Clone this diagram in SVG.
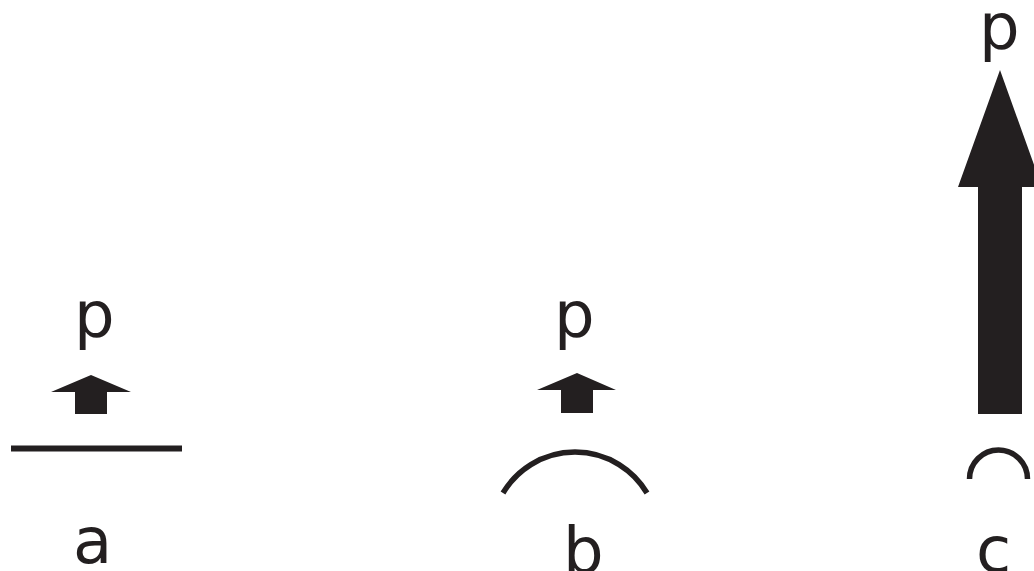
<svg xmlns="http://www.w3.org/2000/svg" width="1034" height="571" viewBox="0 0 1034 571">
  <style>
    .lbl { font-family: "DejaVu Sans", Verdana, sans-serif; font-size: 64px; fill: #231f20; }
    .shape { fill: #231f20; }
    .curve { fill: none; stroke: #231f20; stroke-width: 5.5; stroke-linecap: butt; }
  </style>
  <rect width="1034" height="571" fill="#ffffff"/>
  <g id="panel-a">
    <text class="lbl" x="74" y="337">p</text>
    <polygon class="shape" points="91,375 131,392 107,392 107,414 75,414 75,392 51,392"/>
    <line x1="11" y1="448.5" x2="182" y2="448.5" stroke="#231f20" stroke-width="6"/>
    <text class="lbl" x="73" y="563">a</text>
  </g>
  <g id="panel-b">
    <text class="lbl" x="554" y="337">p</text>
    <polygon class="shape" points="577,373 616,390 593,390 593,413 561,413 561,390 537,390"/>
    <path class="curve" d="M503,493 A83.7,83.7 0 0 1 647,493"/>
    <text class="lbl" x="563" y="573">b</text>
  </g>
  <g id="panel-c">
    <text class="lbl" x="979" y="49">p</text>
    <polygon class="shape" points="1000,70 1042,187 1022,187 1022,414 978,414 978,187 958,187"/>
    <path class="curve" d="M969.5,479 A29,29 0 0 1 1027.5,479"/>
    <text class="lbl" x="976" y="572">c</text>
  </g>
</svg>
